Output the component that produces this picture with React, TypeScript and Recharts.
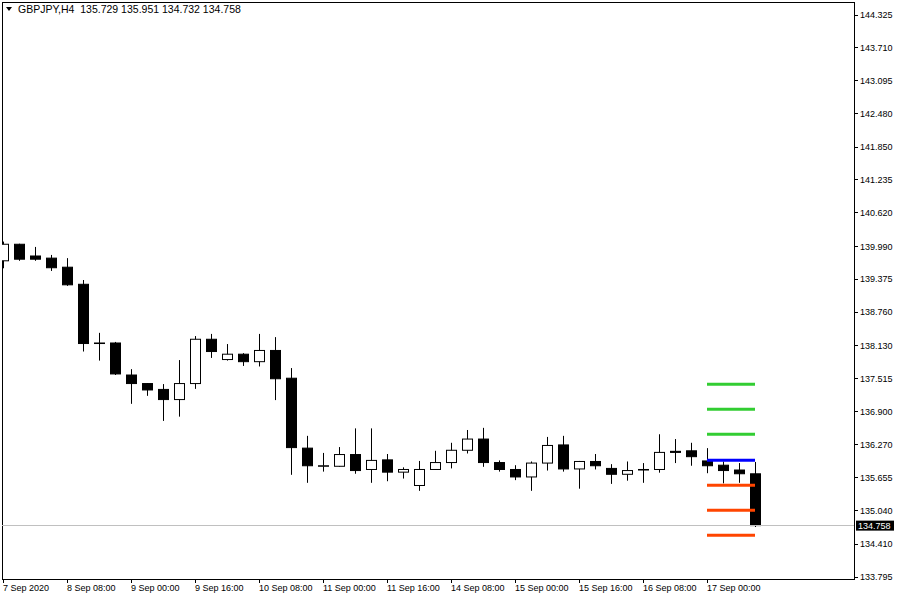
import { ComposedChart, Bar, XAxis, YAxis, ReferenceLine, ReferenceArea } from "recharts";

// H4 candles, 7 Sep 16:00 .. 17 Sep 12:00
const opens = [
  139.72, 140.03, 139.81, 139.77, 139.6, 139.28, 138.17, 138.18, 137.58, 137.42, 137.31, 137.12,
  137.42, 138.25, 137.87, 137.97, 137.83, 138.04, 137.52, 136.21, 135.87, 135.87, 136.09, 135.81,
  135.99, 135.76, 135.51, 135.81, 135.94, 136.17, 136.38, 135.94, 135.81, 135.67, 135.93, 136.27,
  135.82, 135.96, 135.83, 135.72, 135.8, 135.81, 136.15, 136.16, 135.97, 135.89, 135.8, 135.729,
];
const highs = [
  140.08, 140.04, 139.98, 139.83, 139.77, 139.36, 138.37, 138.2, 137.69, 137.43, 137.41, 137.86,
  138.31, 138.35, 138.16, 137.99, 138.35, 138.29, 137.71, 136.44, 136.12, 136.23, 136.58, 136.58,
  136.1, 135.85, 135.97, 136.16, 136.31, 136.55, 136.59, 135.98, 135.89, 135.96, 136.42, 136.44,
  135.97, 136.1, 135.91, 135.96, 135.93, 136.47, 136.38, 136.31, 136.21, 135.96, 135.93, 135.951,
];
const lows = [
  139.58, 139.72, 139.72, 139.53, 139.25, 138.02, 137.85, 137.58, 137.04, 137.19, 136.72, 136.8,
  137.32, 137.9, 137.85, 137.75, 137.74, 137.11, 135.71, 135.56, 135.77, 135.86, 135.73, 135.56,
  135.59, 135.64, 135.41, 135.8, 135.83, 136.11, 135.86, 135.77, 135.61, 135.41, 135.79, 135.77,
  135.45, 135.81, 135.54, 135.6, 135.56, 135.75, 135.93, 135.88, 135.74, 135.55, 135.56, 134.732,
];
const closes = [
  140.03, 139.75, 139.75, 139.59, 139.27, 138.17, 138.18, 137.6, 137.42, 137.3, 137.12, 137.42,
  138.25, 138.02, 137.97, 137.83, 138.04, 137.51, 136.22, 135.88, 135.88, 136.09, 135.79, 135.98,
  135.76, 135.81, 135.81, 135.94, 136.17, 136.38, 135.94, 135.81, 135.67, 135.93, 136.26, 135.82,
  135.96, 135.88, 135.72, 135.79, 135.81, 136.13, 136.13, 136.05, 135.88, 135.79, 135.73, 134.758,
];

const xTickIdx = [0, 4, 8, 12, 16, 20, 24, 28, 32, 36, 40, 44];
const xTickLabels = [
  "7 Sep 2020", "8 Sep 08:00", "9 Sep 00:00", "9 Sep 16:00", "10 Sep 08:00", "11 Sep 00:00",
  "11 Sep 16:00", "14 Sep 08:00", "15 Sep 00:00", "15 Sep 16:00", "16 Sep 08:00", "17 Sep 00:00",
];
const yTicks = [
  144.325, 143.71, 143.095, 142.48, 141.85, 141.235, 140.62, 139.99, 139.375, 138.76, 138.13,
  137.515, 136.9, 136.27, 135.655, 135.04, 134.41, 133.795,
];

const lastPrice = 134.758;
const resistLevels = [137.405, 136.937, 136.468];
const pivotLevel = 135.981;
const supportLevels = [135.513, 135.044, 134.576];
const levelFrom = 44;
const levelTo = 47;

const data = opens.map((o, i) => ({ i, open: o, high: highs[i], low: lows[i], close: closes[i] }));

const FONT = "'Liberation Sans', Arial, sans-serif";

const Candle = (props: any) => {
  const { x, y, width, height, payload } = props;
  if (x == null || y == null) return null;
  const { open, close, high, low } = payload;
  const yTop = Math.min(y, y + height);
  const yBot = Math.max(y, y + height);
  const range = high - low || 1;
  const py = (v: number) => yTop + ((high - v) / range) * (yBot - yTop);
  const cx = Math.round(x + width / 2) + 0.5;
  const bTop = py(Math.max(open, close));
  const bBot = py(Math.min(open, close));
  const bull = close >= open;
  return (
    <g>
      <line x1={cx} x2={cx} y1={yTop} y2={yBot} stroke="#000" strokeWidth={1} />
      <rect
        x={cx - 5}
        y={bTop}
        width={10}
        height={Math.max(bBot - bTop, 0)}
        fill={bull ? "#fff" : "#000"}
        stroke="#000"
        strokeWidth={1}
      />
    </g>
  );
};

const XTick = (props: any) => {
  const { x, y, payload } = props;
  const k = xTickIdx.indexOf(payload.value);
  return (
    <text x={x} y={y} dy="0.71em" textAnchor="start" fontSize={9} fontFamily={FONT} fill="#000">
      {xTickLabels[k]}
    </text>
  );
};

const YTick = (props: any) => {
  const { x, y, payload } = props;
  return (
    <text x={x} y={y} dy="0.355em" textAnchor="start" fontSize={9} fontFamily={FONT} fill="#000">
      {payload.value.toFixed(3)}
    </text>
  );
};

const PriceTag = (props: any) => {
  const vb = props.viewBox || {};
  const x = vb.x + vb.width + 2;
  const y = vb.y;
  return (
    <g>
      <rect x={x} y={y - 5} width={38} height={10} fill="#000" />
      <text x={x + 2} y={y} dy="0.355em" fontSize={9} fontFamily={FONT} fill="#fff">
        {lastPrice.toFixed(3)}
      </text>
    </g>
  );
};

const xDomain = [-0.0625, 53.1875];
const yDomain = [133.758, 144.569];
const frame = { stroke: "#000", shapeRendering: "crispEdges" };

export default function App() {
  return (
    <div style={{ position: "absolute", left: 0, top: 0, width: 900, height: 600, background: "#fff" }}>
      <ComposedChart width={900} height={600} data={data} margin={{ top: 2, right: 0, bottom: 0, left: 2 }}>
        <XAxis
          dataKey="i"
          type="number"
          domain={xDomain}
          allowDataOverflow
          ticks={xTickIdx}
          interval={0}
          height={21}
          tickSize={4}
          tickMargin={2}
          axisLine={frame}
          tickLine={frame}
          tick={<XTick />}
        />
        <YAxis
          orientation="right"
          type="number"
          domain={yDomain}
          allowDataOverflow
          ticks={yTicks}
          interval={0}
          width={46}
          tickSize={4}
          tickMargin={2}
          axisLine={frame}
          tickLine={frame}
          tick={<YTick />}
        />
        <ReferenceArea
          x1={xDomain[0]}
          x2={xDomain[1]}
          y1={yDomain[0]}
          y2={yDomain[1]}
          fill="none"
          fillOpacity={0}
          stroke="#000"
          strokeOpacity={1}
          shapeRendering="crispEdges"
        />
        <ReferenceLine y={lastPrice} stroke="#c0c0c0" shapeRendering="crispEdges" label={<PriceTag />} />
        <Bar
          dataKey={(d: any) => [d.low, d.high]}
          barSize={11}
          shape={<Candle />}
          isAnimationActive={false}
        />
        {resistLevels.map((v) => (
          <ReferenceLine key={`r${v}`} segment={[{ x: levelFrom, y: v }, { x: levelTo, y: v }]} stroke="#32cd32" strokeWidth={3} />
        ))}
        <ReferenceLine segment={[{ x: levelFrom, y: pivotLevel }, { x: levelTo, y: pivotLevel }]} stroke="#0000ff" strokeWidth={3} />
        {supportLevels.map((v) => (
          <ReferenceLine key={`s${v}`} segment={[{ x: levelFrom, y: v }, { x: levelTo, y: v }]} stroke="#ff4500" strokeWidth={3} />
        ))}
      </ComposedChart>
      <div
        style={{
          position: "absolute",
          left: 6,
          top: 3,
          display: "flex",
          alignItems: "center",
          fontFamily: FONT,
          fontSize: 10.5,
          lineHeight: "12px",
          color: "#000",
          whiteSpace: "pre",
        }}
      >
        <svg width={6} height={4} style={{ marginRight: 6 }}>
          <polygon points="0,0 6,0 3,4" fill="#000" />
        </svg>
        <span>{"GBPJPY,H4  135.729 135.951 134.732 134.758"}</span>
      </div>
    </div>
  );
}
